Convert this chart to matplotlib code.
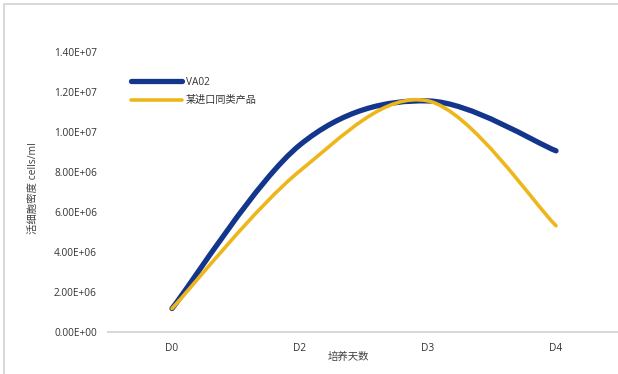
import numpy as np
import matplotlib.pyplot as plt
from matplotlib.path import Path
from matplotlib.patches import PathPatch, Rectangle

plt.rcParams['font.family'] = ['Open Sans', 'Noto Sans CJK SC', 'DejaVu Sans']

days = ['D0', 'D2', 'D3', 'D4']
va02 = [1.15e6, 9.35e6, 1.155e7, 9.05e6]
import_prod = [1.15e6, 8.05e6, 1.155e7, 5.3e6]
series_names = ['VA02', '某进口同类产品']
colors = ['#13358c', '#edb71c']
widths = [3.8, 2.6]


def smooth_path(xs, ys):
    # excel-like smoothed line: cubic bezier through the points
    p = np.column_stack((xs, ys)).astype(float)
    ext = np.vstack((p[0], p, p[-1]))
    verts = [p[0]]
    codes = [Path.MOVETO]
    for i in range(len(p) - 1):
        c1 = ext[i + 1] + (ext[i + 2] - ext[i]) / 6.
        c2 = ext[i + 2] - (ext[i + 3] - ext[i + 1]) / 6.
        verts += [c1, c2, p[i + 1]]
        codes += [Path.CURVE4] * 3
    return Path(verts, codes)


fig = plt.figure(figsize=(6.18, 3.74), dpi=100)
W, H = 618., 374.
ax = fig.add_axes([108 / W, 1 - 331.5 / H, 512 / W, (331.5 - 52) / H])

x = np.arange(len(days))
for vals, name, c, lw, z in zip([va02, import_prod], series_names, colors, widths, [2, 3]):
    ax.add_patch(PathPatch(smooth_path(x, vals), fill=False, edgecolor=c, lw=lw,
                           capstyle='round', joinstyle='round', zorder=z))
    ax.plot([], [], color=c, lw=lw, solid_capstyle='round', label=name)

ax.set_xlim(-0.5, 3.5)
ax.set_ylim(0, 1.4e7)
ax.set_xticks(x)
ax.set_xticklabels(days)
ax.set_yticks(np.arange(0, 1.41e7, 2e6))
ax.set_yticklabels(['{:.2E}'.format(v) for v in np.arange(0, 1.41e7, 2e6)])
ax.tick_params(length=0, labelsize=7.3, colors='#333333', pad=8)
ax.tick_params(axis='x', pad=8)
for s in ['top', 'right', 'left']:
    ax.spines[s].set_visible(False)
ax.spines['bottom'].set_color('#d9d9d9')
ax.spines['bottom'].set_linewidth(1.5)

fig.text(33 / W, 1 - 188 / H, '活细胞密度 cells/ml', rotation=90, ha='center', va='center',
         fontsize=7.5, color='#404040')
fig.text(348 / W, 1 - 357 / H, '培养天数', ha='center', va='center', fontsize=7.5, color='#404040')

leg = ax.legend(loc='upper left', bbox_to_anchor=(131 / W, 1 - 77 / H), bbox_transform=fig.transFigure,
                frameon=False, fontsize=7.3, handlelength=5.0, handletextpad=0.4,
                labelspacing=0.7, borderpad=0, borderaxespad=0)
for t in leg.get_texts():
    t.set_color('#333333')

# chart area border (left/top edges visible)
fig.patches.append(Rectangle((3.5 / W, -0.1), 1.2, (370.5 / H) + 0.1, transform=fig.transFigure,
                             fill=False, edgecolor='#d9d9d9', lw=1.5))

plt.savefig('out.png', dpi=100)
